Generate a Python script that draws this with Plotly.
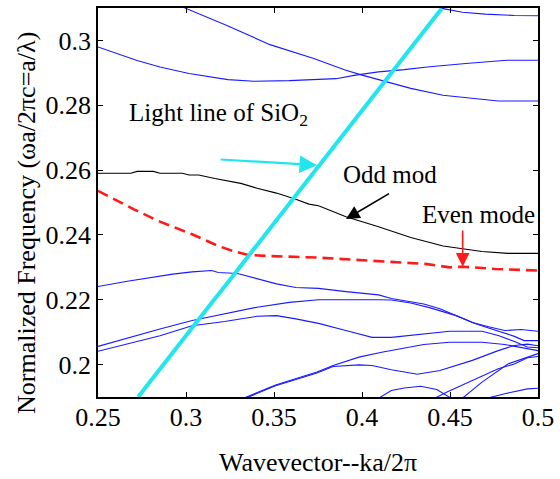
import plotly.graph_objects as go

# ---- data (wavevector k, normalized frequency f) ----
light_k = [0.2728, 0.2850, 0.3000, 0.3125, 0.3250, 0.3375, 0.3500, 0.3625, 0.3750, 0.3875, 0.4000, 0.4125, 0.4250, 0.4375, 0.4452]
light_f = [0.1900, 0.1986, 0.2090, 0.2176, 0.2262, 0.2349, 0.2437, 0.2523, 0.2610, 0.2697, 0.2784, 0.2871, 0.2958, 0.3045, 0.3098]

odd_k = [0.2500, 0.2686, 0.2722, 0.2815, 0.2852, 0.2980, 0.3017, 0.3072, 0.3164, 0.3311, 0.3404, 0.3514, 0.3624, 0.3698, 0.3753, 0.3909, 0.4094, 0.4277, 0.4461, 0.4554, 0.4682, 0.4829, 0.5000]
odd_f = [0.2590, 0.2590, 0.2596, 0.2596, 0.2590, 0.2590, 0.2585, 0.2585, 0.2574, 0.2559, 0.2544, 0.2529, 0.2510, 0.2495, 0.2490, 0.2456, 0.2425, 0.2392, 0.2366, 0.2359, 0.2349, 0.2343, 0.2343]

even_k = [0.2500, 0.2594, 0.2704, 0.2852, 0.3035, 0.3183, 0.3274, 0.3348, 0.3459, 0.3753, 0.4057, 0.4370, 0.4498, 0.4572, 0.4756, 0.5000]
even_f = [0.2536, 0.2510, 0.2479, 0.2441, 0.2402, 0.2366, 0.2349, 0.2339, 0.2335, 0.2330, 0.2320, 0.2310, 0.2300, 0.2302, 0.2295, 0.2290]

bands = {
    "A": ([0.2950, 0.2998, 0.3219, 0.3477, 0.3726, 0.3908, 0.4001, 0.4149, 0.4277, 0.4460, 0.4664, 0.4774, 0.5000],
          [0.3112, 0.3099, 0.3049, 0.2987, 0.2944, 0.2908, 0.2893, 0.2872, 0.2852, 0.2831, 0.2818, 0.2813, 0.2813]),
    "B": ([0.2500, 0.2722, 0.2852, 0.3017, 0.3238, 0.3385, 0.3587, 0.3852, 0.3964, 0.4094, 0.4240, 0.4370, 0.4590, 0.4823, 0.5000],
          [0.2980, 0.2938, 0.2918, 0.2898, 0.2879, 0.2874, 0.2876, 0.2882, 0.2893, 0.2903, 0.2910, 0.2918, 0.2929, 0.2939, 0.2939]),
    "C": ([0.4400, 0.4461, 0.4571, 0.4700, 0.4866, 0.5000],
          [0.3115, 0.3098, 0.3087, 0.3081, 0.3077, 0.3076]),
    "D": ([0.2500, 0.2667, 0.2925, 0.3035, 0.3146, 0.3183, 0.3293, 0.3367, 0.3514, 0.3624, 0.3753, 0.3909, 0.4094, 0.4167, 0.4241, 0.4351, 0.4443, 0.4535, 0.4627, 0.4719, 0.4811, 0.4903, 0.5000],
          [0.2241, 0.2257, 0.2279, 0.2286, 0.2290, 0.2284, 0.2281, 0.2271, 0.2249, 0.2238, 0.2235, 0.2225, 0.2215, 0.2204, 0.2197, 0.2187, 0.2172, 0.2151, 0.2130, 0.2117, 0.2105, 0.2108, 0.2103]),
    "E": ([0.2500, 0.2667, 0.2852, 0.3035, 0.3219, 0.3404, 0.3587, 0.3753, 0.4094, 0.4167, 0.4277, 0.4388, 0.4535, 0.4646, 0.4719, 0.4792, 0.4866, 0.4921, 0.5000],
          [0.2056, 0.2082, 0.2110, 0.2136, 0.2156, 0.2177, 0.2192, 0.2200, 0.2200, 0.2199, 0.2190, 0.2175, 0.2151, 0.2126, 0.2113, 0.2100, 0.2087, 0.2074, 0.2074]),
    "F": ([0.2500, 0.2667, 0.2852, 0.3035, 0.3219, 0.3404, 0.3514, 0.3624, 0.3753, 0.3908, 0.4057, 0.4167, 0.4351, 0.4498, 0.4682, 0.4774, 0.4866, 0.4940, 0.5000],
          [0.2041, 0.2064, 0.2089, 0.2120, 0.2133, 0.2149, 0.2151, 0.2141, 0.2127, 0.2105, 0.2084, 0.2084, 0.2095, 0.2103, 0.2103, 0.2090, 0.2071, 0.2054, 0.2052]),
    "G1": ([0.3300, 0.3321, 0.3505, 0.3744, 0.3836, 0.3983, 0.4112, 0.4222, 0.4351, 0.4498, 0.4682, 0.4811, 0.4901, 0.5000],
           [0.1888, 0.1895, 0.1936, 0.1977, 0.1997, 0.2023, 0.2038, 0.2049, 0.2062, 0.2069, 0.2069, 0.2062, 0.2053, 0.2043]),
    "G2": ([0.3300, 0.3321, 0.3505, 0.3744, 0.3836, 0.3983, 0.4057, 0.4167, 0.4314, 0.4443, 0.4627, 0.4774, 0.4866, 0.4940, 0.5000],
           [0.1885, 0.1892, 0.1934, 0.1974, 0.1994, 0.1999, 0.1997, 0.1984, 0.1970, 0.1982, 0.2013, 0.2043, 0.2059, 0.2063, 0.2058]),
    "H": ([0.4060, 0.4084, 0.4167, 0.4241, 0.4333, 0.4425, 0.4498, 0.4540],
          [0.1885, 0.1893, 0.1920, 0.1928, 0.1933, 0.1923, 0.1900, 0.1885]),
    "I": ([0.4370, 0.4388, 0.4480, 0.4627, 0.4774, 0.4866, 0.4940, 0.5000],
          [0.1885, 0.1889, 0.1915, 0.1951, 0.1987, 0.2002, 0.2021, 0.2025]),
    "J": ([0.4540, 0.4554, 0.4682, 0.4829, 0.5000],
          [0.1885, 0.1889, 0.1946, 0.2002, 0.2034]),
    "K": ([0.4680, 0.4701, 0.4811, 0.4940, 0.5000],
          [0.1888, 0.1895, 0.1910, 0.1925, 0.1927]),
}

x_ticks = [0.25, 0.3, 0.35, 0.4, 0.45, 0.5]
x_labels = ["0.25", "0.3", "0.35", "0.4", "0.45", "0.5"]
y_ticks = [0.2, 0.22, 0.24, 0.26, 0.28, 0.3]
y_labels = ["0.2", "0.22", "0.24", "0.26", "0.28", "0.3"]

FONT = "Liberation Serif"

fig = go.Figure()
for name, (bk, bf) in bands.items():
    fig.add_trace(go.Scatter(x=bk, y=bf, mode="lines", line=dict(color="#1a1aff", width=1.1),
                             showlegend=False, hoverinfo="skip"))
fig.add_trace(go.Scatter(x=odd_k, y=odd_f, mode="lines", line=dict(color="black", width=1.1), showlegend=False))
fig.add_trace(go.Scatter(x=even_k, y=even_f, mode="lines",
                         line=dict(color="#ff1a1a", width=2.6, dash="11px,6px"), showlegend=False))
fig.add_trace(go.Scatter(x=light_k, y=light_f, mode="lines", line=dict(color="#22e5ee", width=4), showlegend=False))

ann_font = dict(family=FONT, size=25, color="black")
fig.add_annotation(x=0.2666, y=0.2773, xref="x", yref="y", text="Light line of SiO<sub>2</sub>",
                   showarrow=False, xanchor="left", yanchor="middle", font=ann_font)
fig.add_annotation(x=0.3882, y=0.2585, xref="x", yref="y", text="Odd mod",
                   showarrow=False, xanchor="left", yanchor="middle", font=ann_font)
fig.add_annotation(x=0.4329, y=0.2462, xref="x", yref="y", text="Even mode",
                   showarrow=False, xanchor="left", yanchor="middle", font=ann_font)
# arrows
fig.add_annotation(x=0.3745, y=0.2615, ax=0.3188, ay=0.2633, xref="x", yref="y", axref="x", ayref="y",
                   text="", showarrow=True, arrowhead=2, arrowsize=1.6, arrowwidth=2.2, arrowcolor="#22e5ee")
fig.add_annotation(x=0.3909, y=0.2449, ax=0.4162, ay=0.2530, xref="x", yref="y", axref="x", ayref="y",
                   text="", showarrow=True, arrowhead=2, arrowsize=1.7, arrowwidth=1.6, arrowcolor="black")
fig.add_annotation(x=0.4572, y=0.2302, ax=0.4572, ay=0.2418, xref="x", yref="y", axref="x", ayref="y",
                   text="", showarrow=True, arrowhead=2, arrowsize=1.7, arrowwidth=1.6, arrowcolor="#ff1a1a")

# axis titles
fig.add_annotation(x=0.5, y=-0.169, xref="paper", yref="paper",
                   text="Wavevector--ka/2π", showarrow=False,
                   font=dict(family=FONT, size=26, color="black"), xanchor="center", yanchor="middle")
fig.add_annotation(x=-0.163, y=0.448, xref="paper", yref="paper",
                   text="Normalized Frequency (ωa/2πc=a/λ)", showarrow=False, textangle=-90,
                   font=dict(family=FONT, size=26, color="black"), xanchor="center", yanchor="middle")

axis_common = dict(showline=True, linecolor="black", linewidth=1.5, mirror="ticks", ticks="inside",
                   ticklen=5, tickcolor="black", tickwidth=1, showgrid=False, zeroline=False,
                   ticklabeloverflow="allow",
                   tickfont=dict(family=FONT, size=26, color="black"))
fig.update_xaxes(range=[0.25, 0.5], tickvals=x_ticks, ticktext=x_labels, ticklabelstandoff=-4, **axis_common)
fig.update_yaxes(range=[0.19, 0.31], tickvals=y_ticks, ticktext=y_labels, **axis_common)

fig.update_layout(width=560, height=479, margin=dict(l=98, r=9, t=6, b=82),
                  paper_bgcolor="white", plot_bgcolor="white", showlegend=False)
fig.write_html("out.html")
